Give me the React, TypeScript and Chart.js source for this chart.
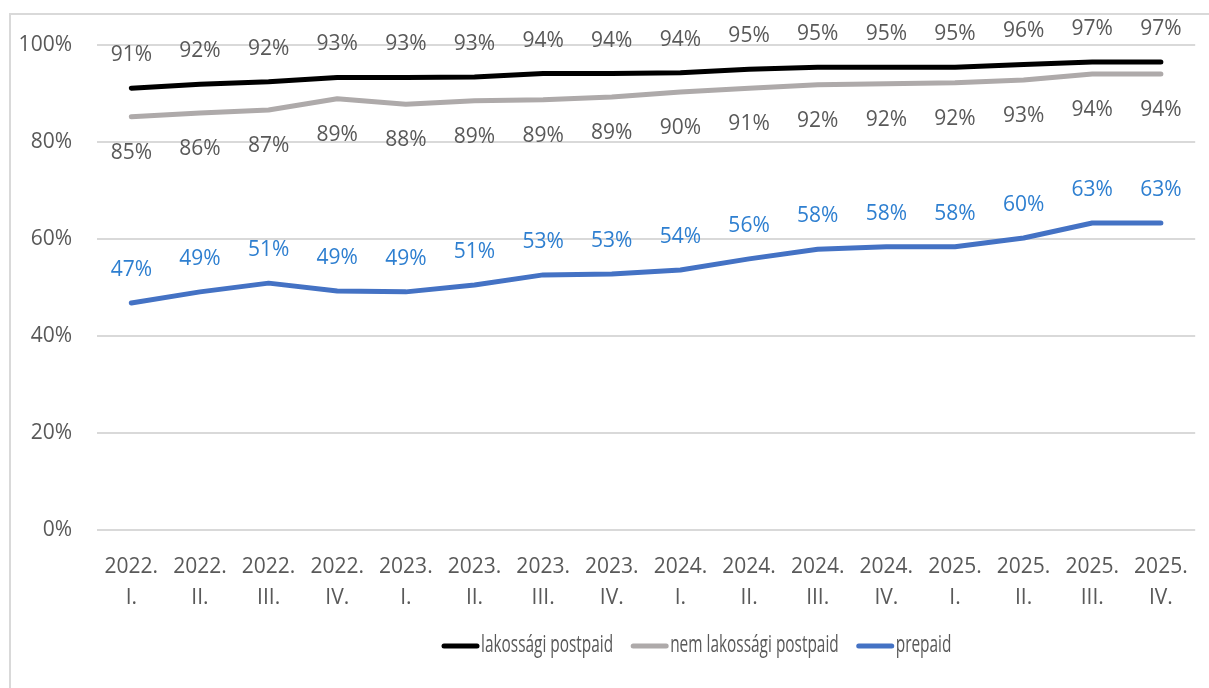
import React, { useEffect, useRef } from "react";
import { Chart, registerables } from "chart.js";

Chart.register(...registerables);

const years = ["2022.", "2022.", "2022.", "2022.", "2023.", "2023.", "2023.", "2023.", "2024.", "2024.", "2024.", "2024.", "2025.", "2025.", "2025.", "2025."];
const quarters = ["I.", "II.", "III.", "IV.", "I.", "II.", "III.", "IV.", "I.", "II.", "III.", "IV.", "I.", "II.", "III.", "IV."];

const lakossagiPostpaid = [91.1, 91.9, 92.4, 93.3, 93.3, 93.4, 94.1, 94.1, 94.3, 95.0, 95.4, 95.4, 95.4, 96.0, 96.5, 96.5];
const nemLakossagiPostpaid = [85.2, 86.0, 86.6, 88.9, 87.8, 88.5, 88.7, 89.3, 90.3, 91.1, 91.8, 92.0, 92.2, 92.8, 94.0, 94.0];
const prepaid = [46.8, 49.1, 50.9, 49.3, 49.1, 50.5, 52.6, 52.8, 53.6, 55.9, 57.9, 58.4, 58.4, 60.2, 63.3, 63.3];

const seriesNames = ["lakossági postpaid", "nem lakossági postpaid", "prepaid"];
const yTicks = [0, 20, 40, 60, 80, 100];

const FONT = "'Open Sans', 'Noto Sans', sans-serif";
const TEXT = "#595959";

const frameAndLabels = {
  id: "frameAndLabels",
  beforeDraw(chart: any) {
    const ctx = chart.ctx;
    ctx.save();
    ctx.strokeStyle = "#d9d9d9";
    ctx.lineWidth = 2;
    ctx.strokeRect(10, 14, 1400, 900);
    ctx.restore();
  },
  afterDatasetsDraw(chart: any) {
    const ctx = chart.ctx;
    ctx.save();
    ctx.font = `21px ${FONT}`;
    ctx.textAlign = "center";
    ctx.textBaseline = "middle";
    chart.data.datasets.forEach((ds: any, i: number) => {
      const meta = chart.getDatasetMeta(i);
      ctx.fillStyle = ds.labelColor;
      meta.data.forEach((pt: any, j: number) => {
        const v = ds.data[j];
        ctx.fillText(Math.round(v) + "%", pt.x, pt.y + ds.labelOffset);
      });
    });
    ctx.restore();
  },
  afterDraw(chart: any) {
    const ctx = chart.ctx;
    ctx.save();
    ctx.font = `23px ${FONT}`;
    ctx.textBaseline = "middle";
    const sx = 0.67;
    let x = 442;
    const y = 645;
    chart.data.datasets.forEach((ds: any) => {
      ctx.strokeStyle = ds.borderColor;
      ctx.lineWidth = 5;
      ctx.lineCap = "round";
      ctx.beginPath();
      ctx.moveTo(x + 2, y + 1);
      ctx.lineTo(x + 35, y + 1);
      ctx.stroke();
      x += 39;
      const w = ctx.measureText(ds.label).width * sx;
      ctx.save();
      ctx.translate(x, y);
      ctx.scale(sx, 1);
      ctx.fillStyle = TEXT;
      ctx.fillText(ds.label, 0, 0);
      ctx.restore();
      x += w + 18;
    });
    ctx.restore();
  },
};

export default function App() {
  const ref = useRef<HTMLCanvasElement | null>(null);
  useEffect(() => {
    if (!ref.current) return;
    const labels = years.map((y, i) => [y, quarters[i]]);
    const chart = new Chart(ref.current, {
      type: "line",
      data: {
        labels,
        datasets: [
          { label: seriesNames[0], data: lakossagiPostpaid, borderColor: "#000000", labelColor: TEXT, labelOffset: -33 } as any,
          { label: seriesNames[1], data: nemLakossagiPostpaid, borderColor: "#aeaaaa", labelColor: TEXT, labelOffset: 36 } as any,
          { label: seriesNames[2], data: prepaid, borderColor: "#4472c4", labelColor: "#2e7fd0", labelOffset: -33 } as any,
        ].map((d: any) => ({ ...d, borderWidth: 5, pointRadius: 0, tension: 0, fill: false, borderCapStyle: "round", borderJoinStyle: "round" })),
      },
      options: {
        responsive: false,
        animation: false,
        layout: { padding: { top: 45, right: 11, left: 0, bottom: 0 } },
        plugins: { legend: { display: false }, tooltip: { enabled: false } },
        scales: {
          x: {
            offset: true,
            grid: { display: false, drawTicks: false },
            border: { display: false },
            ticks: { color: TEXT, font: { family: FONT, size: 21, lineHeight: 1.5 }, padding: 21, maxRotation: 0, autoSkip: false },
            afterFit: (s: any) => { s.height = 158; },
          },
          y: {
            min: 0,
            max: 100,
            afterBuildTicks: (s: any) => { s.ticks = yTicks.map((v) => ({ value: v })); },
            grid: { color: "#d9d9d9", lineWidth: 2, drawTicks: false },
            border: { display: false },
            ticks: { color: TEXT, font: { family: FONT, size: 21 }, padding: 25, callback: (v: any) => v + "%" },
            afterFit: (s: any) => { s.width = 97; },
          },
        },
      },
      plugins: [frameAndLabels],
    } as any);
    return () => chart.destroy();
  }, []);
  return (
    <div style={{ position: "fixed", left: 0, top: 0, width: 1209, height: 688, background: "#fff" }}>
      <canvas ref={ref} width={1209} height={688} style={{ display: "block" }} />
    </div>
  );
}
